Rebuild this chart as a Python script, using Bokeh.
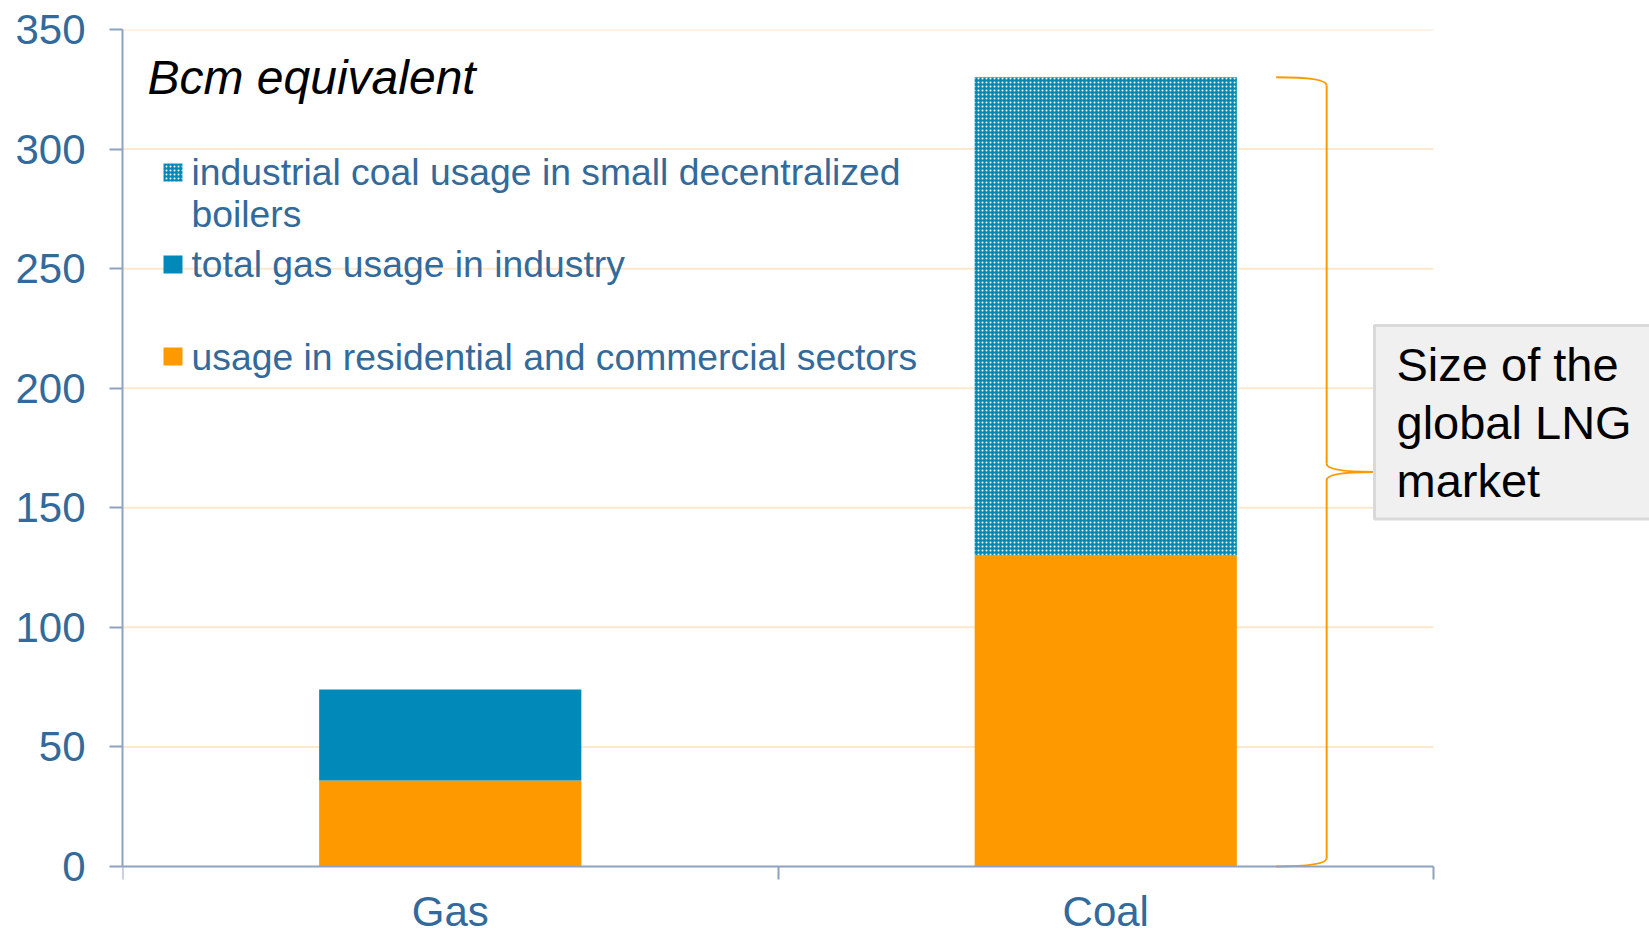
from bokeh.plotting import figure
from bokeh.models import Range1d, FixedTicker, Label, BoxAnnotation
from bokeh.embed import file_html
from bokeh.resources import INLINE

# ---- data (Bcm equivalent) ----
categories = ["Gas", "Coal"]
residential_commercial = [36, 130]
gas_industry = [38, 0]
coal_small_boilers = [0, 200]
y_ticks = [0, 50, 100, 150, 200, 250, 300, 350]
legend_labels = [
    "industrial coal usage in small decentralized",
    "boilers",
    "total gas usage in industry",
    "usage in residential and commercial sectors",
]
unit_label = "Bcm equivalent"
brace_label = "Size of the\nglobal LNG\nmarket"

ORANGE = "#FF9900"
BLUE = "#0089B9"
TXT = "#336A9C"
AXIS = "#8FA2BF"
GRID = "#FCE8CC"
FONT = "Liberation Sans"

W, H = 1649, 934
FL, FT = 122, 29            # frame left / top in canvas px
AX_RIGHT, AX_ZERO = 1433, 866  # end of x axis, canvas y of value 0

n = len(categories)
x_pos = [i + 0.5 for i in range(n)]
lvl1 = residential_commercial
lvl2 = [a + b for a, b in zip(lvl1, gas_industry)]
lvl3 = [a + b for a, b in zip(lvl2, coal_small_boilers)]

ymax = 350
ppu = (AX_ZERO - FT) / ymax
x_end = n * (W - FL) / (AX_RIGHT - FL)
y_start = -(H - AX_ZERO) / ppu

p = figure(width=W, height=H, x_range=Range1d(0, x_end), y_range=Range1d(y_start, ymax),
           output_backend="svg", toolbar_location=None,
           min_border_left=FL, min_border_right=0, min_border_top=FT, min_border_bottom=0)
p.outline_line_color = None
p.background_fill_color = "white"
p.border_fill_color = "white"

# axes
p.xaxis.fixed_location = 0
p.xaxis.bounds = (0, n)
p.xaxis.ticker = FixedTicker(ticks=x_pos, minor_ticks=list(range(n + 1)))
p.xaxis.major_label_overrides = {x: c for x, c in zip(x_pos, categories)}
p.xaxis.major_tick_out = 0
p.xaxis.major_tick_in = 0
p.xaxis.minor_tick_out = 13
p.xaxis.minor_tick_in = 0
p.xaxis.minor_tick_line_color = AXIS
p.xaxis.minor_tick_line_width = 2
p.xaxis.major_label_standoff = 8
p.yaxis.bounds = (0, ymax)
p.yaxis.ticker = FixedTicker(ticks=y_ticks)
p.yaxis.major_tick_out = 13
p.yaxis.major_tick_in = 0
p.yaxis.minor_tick_line_color = None
p.yaxis.major_label_standoff = 24
for ax in (p.xaxis, p.yaxis):
    ax.axis_line_color = AXIS
    ax.axis_line_width = 2
    ax.major_tick_line_width = 2
    ax.major_label_text_font = FONT
    ax.major_label_text_font_size = "42px"
    ax.major_label_text_color = TXT
p.xaxis.major_tick_line_color = None
p.yaxis.major_tick_line_color = AXIS
p.xgrid.visible = False
p.ygrid.visible = False

# horizontal grid lines limited to the category span
gy = [t for t in y_ticks if t > 0]
p.segment(x0=[0] * len(gy), x1=[n] * len(gy), y0=gy, y1=gy, line_color=GRID, line_width=2,
          level="underlay")

# bars
bw = 0.4
hatch = dict(hatch_pattern="dot", hatch_color="white", hatch_scale=4)
p.vbar(x=x_pos, width=bw, bottom=[0] * n, top=lvl1, fill_color=ORANGE, line_color=None)
p.vbar(x=x_pos, width=bw, bottom=lvl1, top=lvl2, fill_color=BLUE, line_color=None)
p.vbar(x=x_pos, width=bw, bottom=lvl2, top=lvl3, fill_color=BLUE, line_color=None, **hatch)

# brace next to the coal bar
total = lvl3[-1]
mid = total / 2
bx0, bxv, bxt, r = 1.76, 1.837, 1.908, 3.4
bk = dict(line_color=ORANGE, line_width=2)
p.quadratic(x0=[bx0], y0=[total], x1=[bxv], y1=[total - r], cx=[bxv], cy=[total], **bk)
p.line(x=[bxv, bxv], y=[total - r, mid + r], **bk)
p.quadratic(x0=[bxv], y0=[mid + r], x1=[bxt], y1=[mid], cx=[bxv], cy=[mid], **bk)
p.quadratic(x0=[bxt], y0=[mid], x1=[bxv], y1=[mid - r], cx=[bxv], cy=[mid], **bk)
p.line(x=[bxv, bxv], y=[mid - r, r], **bk)
p.quadratic(x0=[bxv], y0=[r], x1=[bx0], y1=[0], cx=[bxv], cy=[0], **bk)


def sx(cx):  # canvas x -> frame screen x
    return cx - FL


def sy(cy):  # canvas y -> frame screen y (from frame bottom)
    return H - cy


# unit label
p.add_layout(Label(x=sx(147), y=sy(77), x_units="screen", y_units="screen", text=unit_label,
                   text_font=FONT, text_font_size="48px", text_font_style="italic",
                   text_color="black", text_baseline="middle"))

# legend
def marker(top, **kw):
    p.add_layout(BoxAnnotation(left=sx(163), right=sx(182), top=sy(top), bottom=sy(top + 18),
                               left_units="screen", right_units="screen", top_units="screen",
                               bottom_units="screen", fill_alpha=1, line_color=None, **kw))


marker(163, fill_color=BLUE, **hatch)
marker(255, fill_color=BLUE)
marker(347, fill_color=ORANGE)
for txt, yy in zip(legend_labels, [171, 213, 263, 356]):
    p.add_layout(Label(x=sx(191), y=sy(yy), x_units="screen", y_units="screen", text=txt,
                       text_font=FONT, text_font_size="37.3px", text_color=TXT,
                       text_baseline="middle"))

# annotation box
p.add_layout(Label(x=sx(1374), y=sy(325), x_units="screen", y_units="screen", text=brace_label,
                   text_font=FONT, text_font_size="47px", text_color="black",
                   text_baseline="top", text_align="left", text_line_height=1.1,
                   background_fill_color="#F0F0F0", border_line_color="#D9D9D9",
                   border_line_width=3,
                   padding=dict(left=22, right=40, top=12, bottom=12)))

open("out.html", "w").write(file_html(p, INLINE))
